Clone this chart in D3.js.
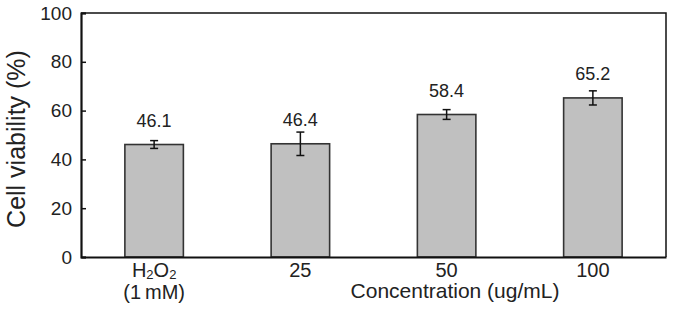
<!DOCTYPE html>
<html>
<head>
<meta charset="utf-8">
<script src="https://cdn.jsdelivr.net/npm/d3@7"></script>
<style>
  body { margin: 0; background: #fff; }
  svg text { font-family: "Liberation Sans", Arial, sans-serif; fill: #222; }
</style>
</head>
<body>
<div class="viability-graph"></div>
<script>
// chart data
var categories = ["H2O2 (1 mM)", "25", "50", "100"];
var viability = [46.1, 46.4, 58.4, 65.2];
var errors = [1.6, 4.8, 2.0, 2.9];
var yTicks = [0, 20, 40, 60, 80, 100];

var width = 674, height = 312;
var margin = {top: 13, right: 8, bottom: 55, left: 81};
var plotW = width - margin.left - margin.right,
    plotH = height - margin.top - margin.bottom;

var svg = d3.select(".viability-graph").append("svg")
    .attr("width", width)
    .attr("height", height);

var g = svg.append("g")
    .attr("transform", "translate(" + margin.left + "," + margin.top + ")");

var data = categories.map(function(c, i) {
  return {cat: c, value: viability[i], err: errors[i]};
});

// scales
var x = d3.scaleBand()
    .range([0, plotW])
    .domain(categories)
    .paddingInner(0.6)
    .paddingOuter(0.3);

var y = d3.scaleLinear()
    .range([plotH, 0])
    .domain([0, 100]);

// bars
g.selectAll("rect.bar")
    .data(data)
    .enter().append("rect")
    .attr("class", "bar")
    .attr("x", function(d) { return x(d.cat); })
    .attr("y", function(d) { return y(d.value); })
    .attr("width", x.bandwidth())
    .attr("height", function(d) { return plotH - y(d.value); })
    .attr("fill", "#c0c0c0")
    .attr("stroke", "#333")
    .attr("stroke-width", 1.6);

// error bars
var cap = 4;
var err = g.selectAll("g.err")
    .data(data)
    .enter().append("g")
    .attr("class", "err")
    .attr("stroke", "#111")
    .attr("stroke-width", 1.5);

err.append("line")
    .attr("x1", function(d) { return x(d.cat) + x.bandwidth() / 2; })
    .attr("x2", function(d) { return x(d.cat) + x.bandwidth() / 2; })
    .attr("y1", function(d) { return y(d.value + d.err); })
    .attr("y2", function(d) { return y(d.value - d.err); });

err.append("line")
    .attr("x1", function(d) { return x(d.cat) + x.bandwidth() / 2 - cap; })
    .attr("x2", function(d) { return x(d.cat) + x.bandwidth() / 2 + cap; })
    .attr("y1", function(d) { return y(d.value + d.err); })
    .attr("y2", function(d) { return y(d.value + d.err); });

err.append("line")
    .attr("x1", function(d) { return x(d.cat) + x.bandwidth() / 2 - cap; })
    .attr("x2", function(d) { return x(d.cat) + x.bandwidth() / 2 + cap; })
    .attr("y1", function(d) { return y(d.value - d.err); })
    .attr("y2", function(d) { return y(d.value - d.err); });

// value labels
g.selectAll("text.value")
    .data(data)
    .enter().append("text")
    .attr("class", "value")
    .attr("x", function(d) { return x(d.cat) + x.bandwidth() / 2; })
    .attr("y", function(d) { return y(d.value) - 18; })
    .attr("text-anchor", "middle")
    .style("font-size", "18px")
    .text(function(d) { return d.value.toFixed(1); });

// frame (top and right)
g.append("path")
    .attr("d", "M0,0H" + plotW + "V" + plotH)
    .attr("fill", "none")
    .attr("stroke", "#111")
    .attr("stroke-width", 1.5);

// y axis, ticks pointing inside
var yAxis = g.append("g")
    .call(d3.axisLeft(y).tickValues(yTicks).tickSize(-5).tickPadding(9));
yAxis.select(".domain").attr("stroke", "#111").attr("stroke-width", 2.2);
yAxis.selectAll(".tick line").attr("stroke", "#111").attr("stroke-width", 1.5);
yAxis.selectAll(".tick text")
    .style("font-size", "19px")
    .style("font-family", "'Liberation Sans', Arial, sans-serif")
    .attr("fill", "#222");

// x axis
var xAxis = g.append("g")
    .attr("transform", "translate(0," + plotH + ")")
    .call(d3.axisBottom(x).tickSize(0).tickPadding(6));
xAxis.select(".domain").attr("stroke", "#111").attr("stroke-width", 2.2);
xAxis.selectAll(".tick text")
    .style("font-size", "20px")
    .style("font-family", "'Liberation Sans', Arial, sans-serif")
    .attr("fill", "#222")
    .attr("dy", "0.71em");

// first tick: H2O2 with subscripts, then (1 mM)
var first = xAxis.select(".tick text");
first.text(null);
var l1 = first.append("tspan").attr("x", 0);
l1.append("tspan").text("H");
l1.append("tspan").text("2").style("font-size", "13px").attr("dy", 2);
l1.append("tspan").text("O").attr("dy", -2);
l1.append("tspan").text("2").style("font-size", "13px").attr("dy", 2);
first.append("tspan").attr("x", 0).attr("dy", "1.0em").text("(1\u2009mM)");

// axis titles
svg.append("text")
    .attr("x", 455)
    .attr("y", 298)
    .attr("text-anchor", "middle")
    .style("font-size", "21px")
    .text("Concentration (ug/mL)");

svg.append("text")
    .attr("transform", "translate(25,139) rotate(-90)")
    .attr("text-anchor", "middle")
    .style("font-size", "25px")
    .text("Cell viability (%)");
</script>
</body>
</html>
